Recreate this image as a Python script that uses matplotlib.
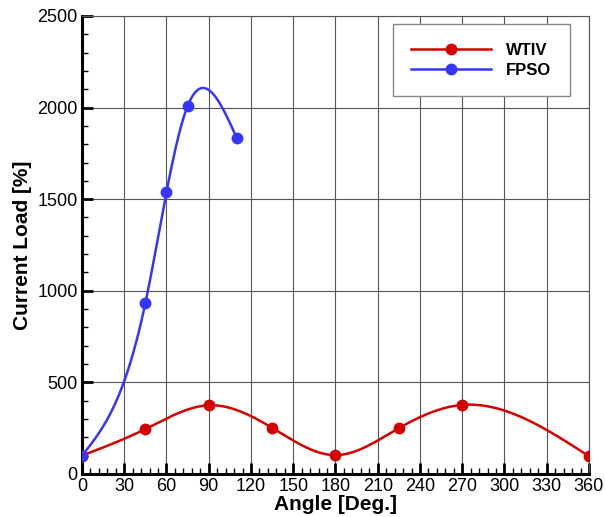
import numpy as np
import matplotlib
matplotlib.use('Agg')
import matplotlib.pyplot as plt

plt.rcParams['font.family'] = ['Liberation Sans', 'DejaVu Sans']

# data
wtiv_angle = [0, 45, 90, 135, 180, 225, 270, 360]
wtiv_load = [100, 245, 375, 252, 103, 250, 377, 97]
fpso_angle = [0, 45, 60, 75, 110]
fpso_load = [100, 932, 1538, 2008, 1832]


def spline(x, y, n=300):
    # natural cubic spline for the drawn line through the points
    x = np.asarray(x, float)
    y = np.asarray(y, float)
    m = len(x)
    h = np.diff(x)
    A = np.zeros((m, m))
    b = np.zeros(m)
    A[0, 0] = A[-1, -1] = 1
    for i in range(1, m - 1):
        A[i, i - 1] = h[i - 1]
        A[i, i] = 2 * (h[i - 1] + h[i])
        A[i, i + 1] = h[i]
        b[i] = 6 * ((y[i + 1] - y[i]) / h[i] - (y[i] - y[i - 1]) / h[i - 1])
    M = np.linalg.solve(A, b)
    xs = np.linspace(x[0], x[-1], n)
    k = np.clip(np.searchsorted(x, xs) - 1, 0, m - 2)
    t0 = x[k + 1] - xs
    t1 = xs - x[k]
    hk = h[k]
    ys = (M[k] * t0**3 + M[k + 1] * t1**3) / (6 * hk) \
        + (y[k] / hk - M[k] * hk / 6) * t0 + (y[k + 1] / hk - M[k + 1] * hk / 6) * t1
    return xs, ys


red = '#d40000'
blue = '#3535ff'

fig = plt.figure(figsize=(6.05, 5.17), dpi=100)
ax = fig.add_axes([0.1355, 0.0832, 0.838, 0.886])

xs, ys = spline(wtiv_angle, wtiv_load)
ax.plot(xs, ys, color=red, lw=1.8, zorder=3)
ax.plot(wtiv_angle, wtiv_load, 'o', color=red, ms=7.5, zorder=4)
xs, ys = spline(fpso_angle, fpso_load)
ax.plot(xs, ys, color=blue, lw=1.8, zorder=3)
ax.plot(fpso_angle, fpso_load, 'o', color=blue, ms=7.5, zorder=4)

# legend handles
ax.plot([], [], 'o-', color=red, lw=1.8, ms=7.5, label='WTIV')
ax.plot([], [], 'o-', color=blue, lw=1.8, ms=7.5, label='FPSO')
leg = ax.legend(loc='upper right', bbox_to_anchor=(0.962, 0.982), fancybox=False,
                framealpha=1, edgecolor='#888888', prop={'weight': 'bold', 'size': 12},
                handlelength=4.8, handletextpad=0.9, borderpad=1.1, labelspacing=0.3,
                borderaxespad=0)
leg.get_frame().set_linewidth(1.0)

ax.set_xlim(0, 360)
ax.set_ylim(0, 2500)
ax.set_xticks(np.arange(0, 361, 30))
ax.set_xticks(np.arange(0, 361, 6), minor=True)
ax.set_yticks(np.arange(0, 2501, 500))
ax.set_yticks(np.arange(0, 2501, 100), minor=True)
ax.grid(True, which='major', color='#555555', lw=0.8)
ax.set_axisbelow(True)

ax.tick_params(which='major', direction='in', length=8, width=2, labelsize=13, pad=3)
ax.tick_params(which='minor', direction='in', length=4, width=1)
ax.tick_params(top=False, right=False)
for s in ['left', 'bottom']:
    ax.spines[s].set_linewidth(2.2)
    ax.spines[s].set_color('black')
for s in ['top', 'right']:
    ax.spines[s].set_linewidth(0.8)
    ax.spines[s].set_color('#555555')

ax.set_xlabel('Angle [Deg.]', fontsize=15, fontweight='bold', labelpad=0)
ax.set_ylabel('Current Load [%]', fontsize=15, fontweight='bold', labelpad=4)

fig.savefig('out.png', dpi=100)
